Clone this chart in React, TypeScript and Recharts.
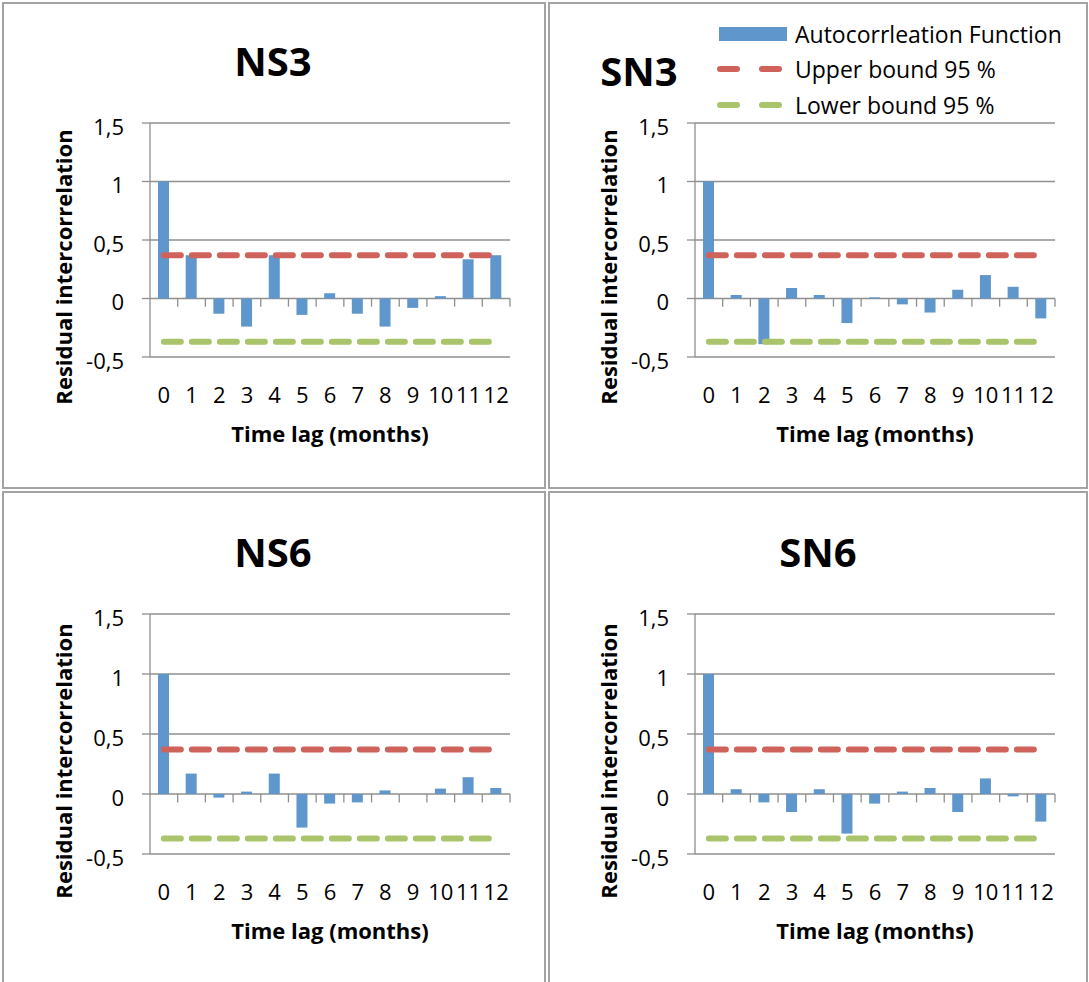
import {
  ComposedChart, Bar, Line, XAxis, YAxis, CartesianGrid, ReferenceLine, Legend,
} from 'recharts'

const LAGS = [0, 1, 2, 3, 4, 5, 6, 7, 8, 9, 10, 11, 12]
const NS3 = [1, 0.37, -0.13, -0.24, 0.37, -0.14, 0.045, -0.13, -0.24, -0.08, 0.02, 0.335, 0.37]
const SN3 = [1, 0.03, -0.39, 0.09, 0.03, -0.21, 0.01, -0.05, -0.12, 0.075, 0.2, 0.1, -0.17]
const NS6 = [1, 0.17, -0.03, 0.02, 0.17, -0.28, -0.08, -0.07, 0.03, 0, 0.045, 0.14, 0.05]
const SN6 = [1, 0.04, -0.07, -0.15, 0.04, -0.33, -0.08, 0.02, 0.05, -0.15, 0.13, -0.02, -0.23]
const UPPER = 0.37
const LOWER = -0.37
const Y_TICKS = [-0.5, 0, 0.5, 1, 1.5]
const SERIES = ['Autocorrleation Function', 'Upper bound 95 %', 'Lower bound 95 %']

const FONT = '"Open Sans", sans-serif'
const BAR = '#5f96cb'
const RED = '#d0625c'
const GREEN = '#a9c46b'
const GRID = '#8f8f8f'
const BORDER = '#a3a3a3'
const TICK_DEPTH = 0.07

const fmt = (v: number) => String(v).replace('.', ',')

const yTitle = (props: any) => {
  const vb = props.viewBox
  const cx = vb.x + vb.width - 87
  const cy = vb.y + vb.height / 2 + 27
  return (
    <text x={cx} y={cy} transform={`rotate(-90 ${cx} ${cy})`} textAnchor="middle" dominantBaseline="central"
      style={{ fontFamily: FONT, fontSize: 22, fontWeight: 700, fill: '#000' }}>
      Residual intercorrelation
    </text>
  )
}

const legendContent = (props: any) => {
  const items = [...(props.payload ?? [])].sort((a, b) => SERIES.indexOf(a.value) - SERIES.indexOf(b.value))
  return (
    <div>
      {items.map((it) => (
        <div key={it.value} style={{ display: 'flex', alignItems: 'center', height: 35.5 }}>
          <svg width={70} height={16} style={{ marginRight: 8 }}>
            {it.type === 'rect'
              ? <rect x={2} y={1} width={68} height={14} fill={it.color} />
              : <line x1={3} y1={8} x2={66} y2={8} stroke={it.color} strokeWidth={6} strokeLinecap="round" strokeDasharray="17 25" />}
          </svg>
          <span style={{ fontFamily: FONT, fontSize: 23, color: '#000', whiteSpace: 'nowrap' }}>{it.value}</span>
        </div>
      ))}
    </div>
  )
}

interface PanelProps {
  values: number[]
  x: number
  y: number
  w: number
  h: number
  plotTop: number
  plotHeight: number
  legend?: boolean
}

function Panel({ values, x, y, w, h, plotTop, plotHeight, legend }: PanelProps) {
  const rows = LAGS.map((lag, i) => ({ lag, acf: values[i], upper: UPPER, lower: LOWER }))
  return (
    <div style={{ position: 'absolute', left: x, top: y }}>
      <ComposedChart width={w} height={h} data={rows}
        margin={{ top: plotTop, right: w - 148 - 360, bottom: 0, left: 0 }}>
        <CartesianGrid vertical={false} stroke={GRID} strokeWidth={1.3} />
        <XAxis dataKey="lag" type="number" domain={[-0.5, 12.5]} ticks={LAGS} interval={0}
          axisLine={false} tickLine={false} tickSize={0} tickMargin={30}
          height={h - plotTop - plotHeight}
          tick={{ fill: '#000', fontSize: 22, fontFamily: FONT }}
          label={{ value: 'Time lag (months)', position: 'insideTop', offset: 69,
            style: { fontFamily: FONT, fontSize: 22, fontWeight: 700, fill: '#000' } }} />
        <YAxis width={148} domain={[-0.5, 1.5]} ticks={Y_TICKS} tickFormatter={fmt}
          axisLine={{ stroke: GRID, strokeWidth: 1.3 }} tickLine={{ stroke: GRID, strokeWidth: 1.3 }}
          tickSize={8} tickMargin={18}
          tick={{ fill: '#000', fontSize: 22, fontFamily: FONT, dy: 4 }}
          label={{ content: yTitle }} />
        {LAGS.map((l) => (
          <ReferenceLine key={l} segment={[{ x: l + 0.5, y: 0 }, { x: l + 0.5, y: -TICK_DEPTH }]}
            stroke={GRID} strokeWidth={1.3} />
        ))}
        <Bar dataKey="acf" name={SERIES[0]} fill={BAR} barSize={11} legendType="rect" isAnimationActive={false} />
        <Line dataKey="upper" name={SERIES[1]} stroke={RED} strokeWidth={6} strokeDasharray="17 11"
          strokeLinecap="round" dot={false} activeDot={false} legendType="line" isAnimationActive={false} />
        <Line dataKey="lower" name={SERIES[2]} stroke={GREEN} strokeWidth={6} strokeDasharray="17 11"
          strokeLinecap="round" dot={false} activeDot={false} legendType="line" isAnimationActive={false} />
        {legend && (
          <Legend layout="vertical" align="center" verticalAlign="middle" content={legendContent}
            wrapperStyle={{ left: 170, top: 14, width: 'auto', height: 'auto' }} />
        )}
      </ComposedChart>
    </div>
  )
}

const titleStyle = (cx: number, cy: number): React.CSSProperties => ({
  position: 'absolute', left: cx - 100, top: cy - 21, width: 200, textAlign: 'center',
  fontFamily: FONT, fontSize: 40, fontWeight: 700, lineHeight: '40px', color: '#000',
})

const boxStyle = (left: number, top: number, width: number, height: number): React.CSSProperties => ({
  position: 'absolute', left, top, width, height, boxSizing: 'border-box', border: `2px solid ${BORDER}`,
})

export default function App() {
  return (
    <div style={{ position: 'absolute', left: 0, top: 0, width: 1089, height: 982, overflow: 'hidden', background: '#fff' }}>
      <div style={boxStyle(2, 2, 544, 487)} />
      <div style={boxStyle(548, 2, 540, 487)} />
      <div style={boxStyle(2, 491, 544, 500)} />
      <div style={boxStyle(548, 491, 540, 500)} />
      <Panel values={NS3} x={2} y={2} w={543} h={486} plotTop={121} plotHeight={234} />
      <Panel values={SN3} x={547} y={2} w={543} h={486} plotTop={121} plotHeight={234} legend />
      <Panel values={NS6} x={2} y={491} w={543} h={491} plotTop={123} plotHeight={240} />
      <Panel values={SN6} x={547} y={491} w={543} h={491} plotTop={123} plotHeight={240} />
      <div style={titleStyle(273, 62)}>NS3</div>
      <div style={titleStyle(639, 72)}>SN3</div>
      <div style={titleStyle(273, 553)}>NS6</div>
      <div style={titleStyle(818, 553)}>SN6</div>
    </div>
  )
}
